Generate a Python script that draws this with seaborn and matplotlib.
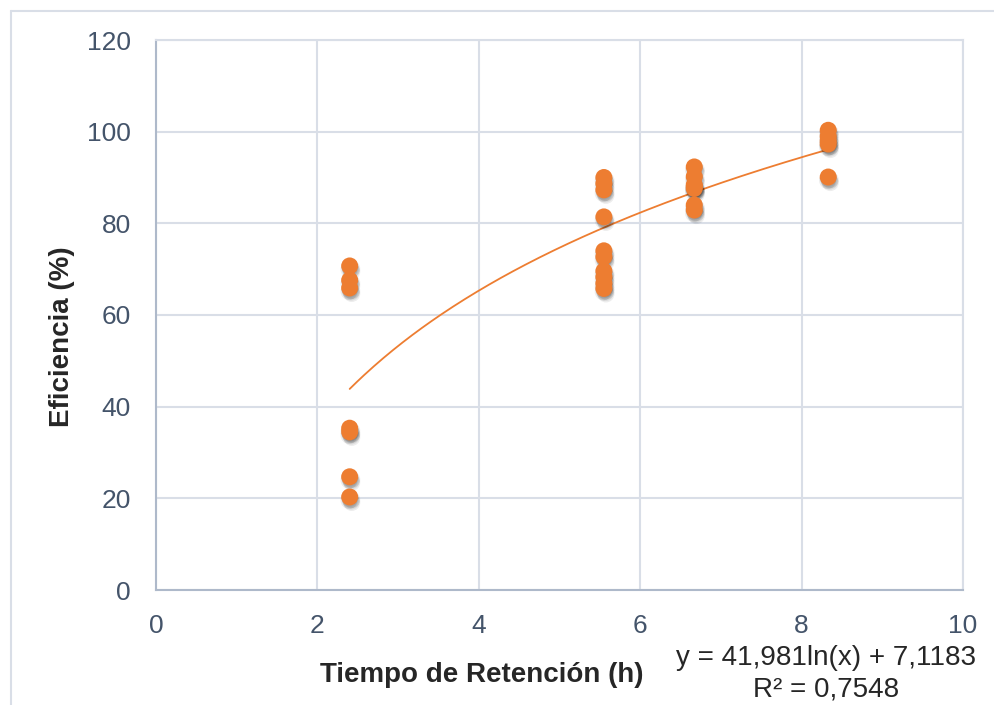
import numpy as np
import pandas as pd
import matplotlib
matplotlib.use("Agg")
import matplotlib.pyplot as plt
import matplotlib.patheffects as pe
from matplotlib.lines import Line2D
import seaborn as sns

# Retention time (h) and removal efficiency (%) per sample
tiempo_24 = [2.4] * 7
eficiencia_24 = [70.7, 67.6, 65.9, 35.3, 34.5, 24.7, 20.3]
tiempo_555 = [5.55] * 10
eficiencia_555 = [90.0, 88.7, 87.3, 81.4, 74.0, 72.7, 69.6, 68.3, 66.9, 65.8]
tiempo_667 = [6.67] * 7
eficiencia_667 = [92.3, 90.2, 88.4, 88.0, 87.6, 84.0, 82.9]
tiempo_833 = [8.33] * 5
eficiencia_833 = [100.3, 99.0, 98.0, 97.3, 90.1]

# Logarithmic trend line coefficients: y = a*ln(x) + b
coef_a = 41.981
coef_b = 7.1183
r2 = 0.7548

x_ticks = [0, 2, 4, 6, 8, 10]
y_ticks = [0, 20, 40, 60, 80, 100, 120]

df = pd.DataFrame({
    "tiempo": tiempo_24 + tiempo_555 + tiempo_667 + tiempo_833,
    "eficiencia": eficiencia_24 + eficiencia_555 + eficiencia_667 + eficiencia_833,
})

sns.set_style("white")
plt.rcParams["font.family"] = ["Liberation Sans", "DejaVu Sans"]

orange = "#ED7D31"
tick_color = "#44546A"
grid_color = "#D9DEE7"
axis_color = "#AEB9CA"

fig = plt.figure(figsize=(9.95, 7.05), dpi=100)
ax = fig.add_axes([156 / 995, 1 - 590 / 705, (963 - 156) / 995, (590 - 40) / 705])

sns.scatterplot(data=df, x="tiempo", y="eficiencia", ax=ax, color=orange,
                s=150, linewidth=0, zorder=3, legend=False)
# soft drop shadow built from a few faint offset layers
shadow = [
    pe.SimplePatchShadow(offset=(dx, dy), shadow_rgbFace="black", alpha=0.07)
    for dx, dy in [(0.0, -1.0), (0.5, -2.0), (1.0, -3.0), (1.5, -4.0), (-0.5, -2.5), (1.5, -2.0)]
]
ax.collections[0].set_path_effects(shadow + [pe.Normal()])

xs = np.linspace(min(df["tiempo"]), max(df["tiempo"]), 200)
ax.plot(xs, coef_a * np.log(xs) + coef_b, color=orange, lw=1.3, zorder=2)

ax.set_xlim(0, 10)
ax.set_ylim(0, 120)
ax.set_xticks(x_ticks)
ax.set_yticks(y_ticks)
ax.set_xlabel("")
ax.set_ylabel("")
ax.grid(True, color=grid_color, lw=1.5)
ax.set_axisbelow(True)
for side in ["top", "right"]:
    ax.spines[side].set_color(grid_color)
    ax.spines[side].set_linewidth(1.5)
for side in ["left", "bottom"]:
    ax.spines[side].set_color(axis_color)
    ax.spines[side].set_linewidth(1.5)
ax.tick_params(axis="both", length=0, labelsize=19, labelcolor=tick_color)
ax.tick_params(axis="x", pad=17)
ax.tick_params(axis="y", pad=18)

fig.text(482 / 995, 1 - 675 / 705, "Tiempo de Retención (h)", fontsize=20,
         fontweight="bold", ha="center", va="center")
fig.text(62 / 995, 1 - 337 / 705, "Eficiencia (%)", fontsize=20,
         fontweight="bold", ha="center", va="center", rotation=90)

eq = f"y = {coef_a:.3f}ln(x) + {coef_b:.4f}".replace(".", ",")
r2_txt = f"R² = {r2:.4f}".replace(".", ",")
fig.text(826 / 995, 1 - 658 / 705, eq, fontsize=20, ha="center", va="center")
fig.text(826 / 995, 1 - 689 / 705, r2_txt, fontsize=20, ha="center", va="center")

# Outer chart-area frame
fig.add_artist(Line2D([11 / 995, 1.0], [1 - 10.5 / 705] * 2, transform=fig.transFigure,
                      color=grid_color, lw=1.5))
fig.add_artist(Line2D([11 / 995] * 2, [0.0, 1 - 10.5 / 705], transform=fig.transFigure,
                      color=grid_color, lw=1.5))

fig.savefig("out.png", dpi=100, facecolor="white")
